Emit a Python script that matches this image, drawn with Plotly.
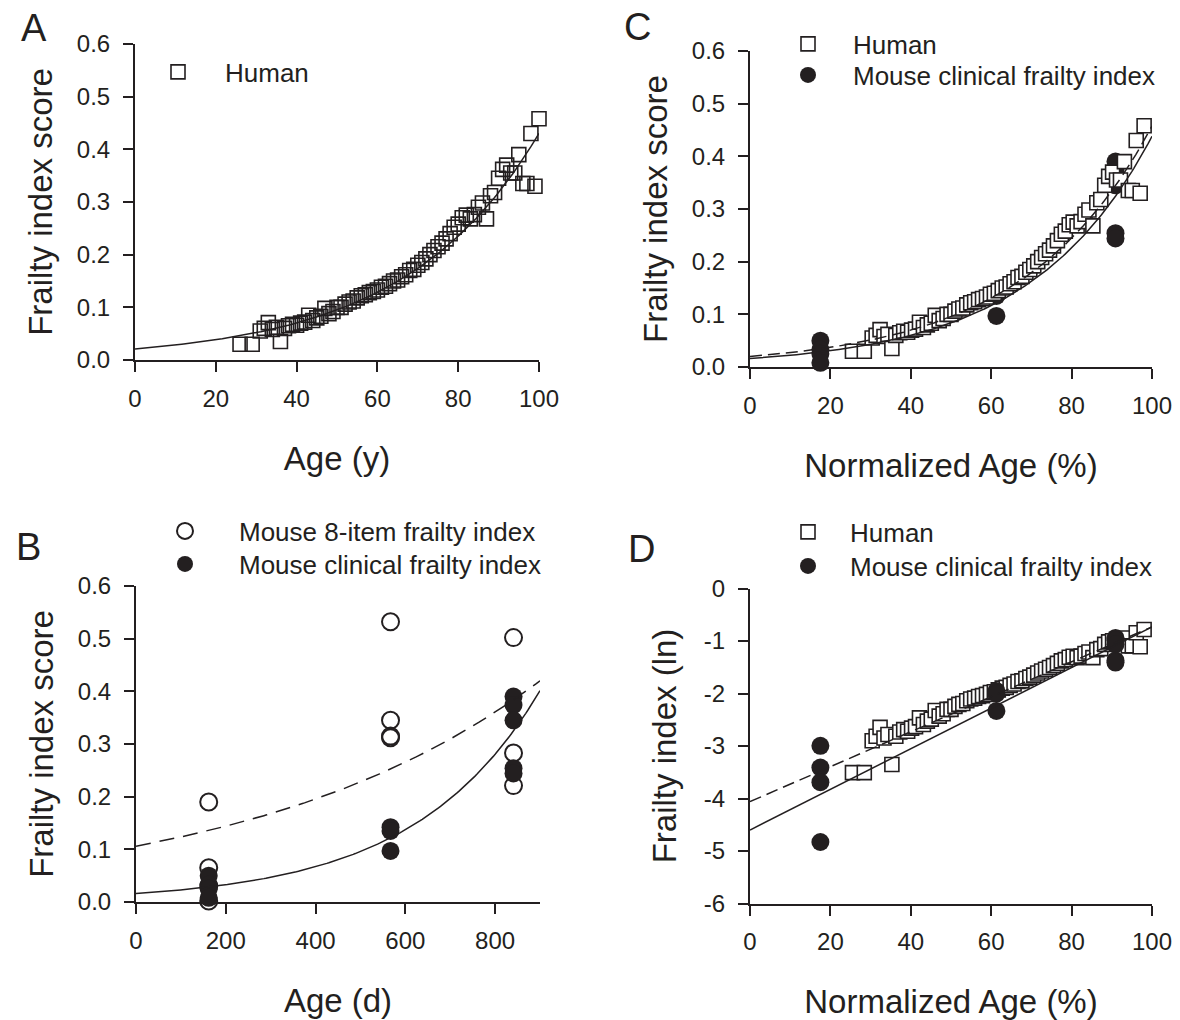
import numpy as np
import plotly.graph_objects as go

# ---------------- data ----------------
human_age = [26, 29, 31, 32, 33, 34, 35, 36, 37, 38, 39, 40, 41, 42, 43, 44, 45, 46, 47, 48,
             49, 50, 51, 52, 53, 54, 55, 56, 57, 58, 59, 60, 61, 62, 63, 64, 65, 66, 67, 68,
             69, 70, 71, 72, 73, 74, 75, 76, 77, 78, 79, 80, 81, 82, 83, 84, 85, 86, 87, 88,
             89, 90, 91, 92, 93, 94, 95, 96, 97, 98, 99, 100]
human_fi = [0.030, 0.030, 0.055, 0.060, 0.071, 0.058, 0.062, 0.035, 0.060, 0.065, 0.068, 0.066,
            0.070, 0.072, 0.085, 0.075, 0.080, 0.083, 0.098, 0.088, 0.092, 0.100, 0.100, 0.106,
            0.110, 0.112, 0.118, 0.122, 0.124, 0.128, 0.130, 0.133, 0.138, 0.140, 0.145, 0.150,
            0.152, 0.158, 0.162, 0.170, 0.172, 0.180, 0.185, 0.192, 0.200, 0.208, 0.215, 0.222,
            0.230, 0.240, 0.252, 0.258, 0.270, 0.275, 0.268, 0.276, 0.290, 0.298, 0.268, 0.312,
            0.318, 0.345, 0.362, 0.370, 0.355, 0.355, 0.390, 0.335, 0.335, 0.430, 0.330, 0.458]
HUMAN_LIFESPAN_Y = 102.0

mouse8_age_d = [162, 162, 162, 162, 567, 567, 567, 567, 841, 841, 841]
mouse8_fi = [0.190, 0.065, 0.030, 0.002, 0.532, 0.345, 0.315, 0.312, 0.502, 0.283, 0.221]

mouseclin_age_d = [162, 162, 162, 162, 567, 567, 567, 841, 841, 841, 841, 841]
mouseclin_fi = [0.050, 0.033, 0.025, 0.008, 0.142, 0.135, 0.097, 0.390, 0.374, 0.345, 0.254, 0.244]
MOUSE_LIFESPAN_D = 925.0

# exponential fit parameters  y = a * exp(b * x)
fit_A_human = (0.021, 0.0302)
fit_B_mouse8 = (0.106, 0.00153)
fit_B_clin = (0.016, 0.00358)
fit_C_human = (0.020, 0.0313)
fit_C_clin = (0.016, 0.0331)
# linear fits of ln(FI)  ln y = c + m * x
fit_D_human = (-4.06, 0.0333)
fit_D_clin = (-4.60, 0.0387)

frac_ticks = [0.0, 0.1, 0.2, 0.3, 0.4, 0.5, 0.6]
frac_ticktext = ["0.0", "0.1", "0.2", "0.3", "0.4", "0.5", "0.6"]
age_ticks = [0, 20, 40, 60, 80, 100]
day_ticks = [0, 200, 400, 600, 800]
ln_ticks = [-6, -5, -4, -3, -2, -1, 0]
ln_ticktext = ["-6", "-5", "-4", "-3", "-2", "-1", "0"]

# ---------------- derived ----------------
human_norm = [a * 100.0 / HUMAN_LIFESPAN_Y for a in human_age]
mouse8_norm = [d * 100.0 / MOUSE_LIFESPAN_D for d in mouse8_age_d]
mouseclin_norm = [d * 100.0 / MOUSE_LIFESPAN_D for d in mouseclin_age_d]
human_ln = list(np.log(human_fi))
mouseclin_ln = list(np.log(mouseclin_fi))

xs100 = np.linspace(0, 100, 200)
xs900 = np.linspace(0, 900, 200)

INK = "#231f20"
FONT = "Liberation Sans, Arial, Helvetica, sans-serif"
W, H = 1180, 1020

def px_x(p):
    return p / W

def px_y(p):
    return 1 - p / H

fig = go.Figure()

sq_open = dict(symbol="square-open", size=14, color=INK, line=dict(width=1.6, color=INK))
sq_white = dict(symbol="square", size=14, color="white", line=dict(width=1.6, color=INK))
circ_open = dict(symbol="circle-open", size=17, color=INK, line=dict(width=2, color=INK))
circ_fill = dict(symbol="circle", size=18, color=INK, line=dict(width=0, color=INK))

def pts(**kw):
    return go.Scatter(mode="markers", cliponaxis=False, **kw)

def curve(x, y, xa, ya, dash=None):
    ln = dict(color=INK, width=1.5)
    if dash:
        ln["dash"] = dash
    return go.Scatter(x=x, y=y, mode="lines", line=ln, showlegend=False, xaxis=xa, yaxis=ya,
                      hoverinfo="skip")

# ----- Panel A -----
fig.add_trace(pts(x=human_age, y=human_fi, marker=sq_open, name="Human",
                  xaxis="x", yaxis="y", legend="legend"))
fig.add_trace(curve(xs100, fit_A_human[0] * np.exp(fit_A_human[1] * xs100), "x", "y"))

# ----- Panel B -----
fig.add_trace(pts(x=mouse8_age_d, y=mouse8_fi, marker=circ_open,
                  name="Mouse 8-item frailty index", xaxis="x2", yaxis="y2", legend="legend2"))
fig.add_trace(pts(x=mouseclin_age_d, y=mouseclin_fi, marker=circ_fill,
                  name="Mouse clinical frailty index", xaxis="x2", yaxis="y2", legend="legend5"))
fig.add_trace(curve(xs900, fit_B_mouse8[0] * np.exp(fit_B_mouse8[1] * xs900), "x2", "y2",
                    dash="15px,9px"))
fig.add_trace(curve(xs900, fit_B_clin[0] * np.exp(fit_B_clin[1] * xs900), "x2", "y2"))

# ----- Panel C -----
fig.add_trace(pts(x=mouseclin_norm, y=mouseclin_fi, marker=circ_fill,
                  name="Mouse clinical frailty index", xaxis="x3", yaxis="y3", legend="legend6"))
fig.add_trace(pts(x=human_norm, y=human_fi, marker=sq_white, name="Human",
                  xaxis="x3", yaxis="y3", legend="legend3"))
fig.add_trace(curve(xs100, fit_C_human[0] * np.exp(fit_C_human[1] * xs100), "x3", "y3",
                    dash="12px,6px"))
fig.add_trace(curve(xs100, fit_C_clin[0] * np.exp(fit_C_clin[1] * xs100), "x3", "y3"))

# ----- Panel D -----
fig.add_trace(pts(x=human_norm, y=human_ln, marker=sq_white, name="Human",
                  xaxis="x4", yaxis="y4", legend="legend4"))
fig.add_trace(pts(x=mouseclin_norm, y=mouseclin_ln, marker=circ_fill,
                  name="Mouse clinical frailty index", xaxis="x4", yaxis="y4", legend="legend7"))
fig.add_trace(curve(xs100, fit_D_human[0] + fit_D_human[1] * xs100, "x4", "y4", dash="12px,6px"))
fig.add_trace(curve(xs100, fit_D_clin[0] + fit_D_clin[1] * xs100, "x4", "y4"))

tickfont = dict(family=FONT, size=24, color=INK)
titlefont = dict(family=FONT, size=33, color=INK)

def xax(domain, rng, tickvals, title, anchor, standoff=36):
    return dict(domain=domain, range=rng, tickvals=tickvals, showline=True, linewidth=2,
                linecolor=INK, ticks="outside", ticklen=10, tickwidth=2, tickcolor=INK,
                showgrid=False, zeroline=False, tickfont=tickfont, anchor=anchor,
                ticklabelstandoff=6, automargin=False, fixedrange=True,
                title=dict(text=title, font=titlefont, standoff=standoff))

def yax(domain, rng, tickvals, ticktext, title, anchor, standoff=14):
    return dict(domain=domain, range=rng, tickvals=tickvals, ticktext=ticktext, showline=True,
                linewidth=2, linecolor=INK, ticks="outside", ticklen=10, tickwidth=2,
                tickcolor=INK, showgrid=False, zeroline=False, tickfont=tickfont, anchor=anchor,
                ticklabelstandoff=8, automargin=False, fixedrange=True,
                title=dict(text=title, font=titlefont, standoff=standoff))

xA = [px_x(135), px_x(539)]
yA = [px_y(360), px_y(44)]
xB = [px_x(136), px_x(540)]
yB = [px_y(902), px_y(586)]
xC = [px_x(750), px_x(1152)]
yC = [px_y(367), px_y(51)]
xD = [px_x(750), px_x(1152)]
yD = [px_y(903.5), px_y(588.5)]

legfont = dict(family=FONT, size=26, color=INK)

def leg(xpix, ypix_mid, itemwidth):
    return dict(x=px_x(xpix), y=px_y(ypix_mid), xanchor="left", yanchor="middle",
                xref="paper", yref="paper", bgcolor="rgba(0,0,0,0)", borderwidth=0,
                font=legfont, itemwidth=itemwidth, tracegroupgap=0, itemclick=False,
                itemdoubleclick=False)

fig.update_layout(
    width=W, height=H, margin=dict(l=0, r=0, t=0, b=0, autoexpand=False),
    paper_bgcolor="white", plot_bgcolor="white",
    font=dict(family=FONT, color=INK),
    xaxis=xax(xA, [0, 100], age_ticks, "Age (y)", "y"),
    yaxis=yax(yA, [0, 0.6], frac_ticks, frac_ticktext, "Frailty index score", "x"),
    xaxis2=xax(xB, [0, 900], day_ticks, "Age (d)", "y2"),
    yaxis2=yax(yB, [0, 0.6], frac_ticks, frac_ticktext, "Frailty index score", "x2"),
    xaxis3=xax(xC, [0, 100], age_ticks, "Normalized Age (%)", "y3"),
    yaxis3=yax(yC, [0, 0.6], frac_ticks, frac_ticktext, "Frailty index score", "x3"),
    xaxis4=xax(xD, [0, 100], age_ticks, "Normalized Age (%)", "y4"),
    yaxis4=yax(yD, [-6, 0], ln_ticks, ln_ticktext, "Frailty index (ln)", "x4", standoff=17),
    legend=leg(131, 72, 84),
    legend2=leg(131, 531, 98),
    legend5=leg(131, 564, 98),
    legend3=leg(763, 44, 80),
    legend6=leg(763, 75, 80),
    legend4=leg(766, 532, 74),
    legend7=leg(766, 566, 74),
)

for txt, cx, cy in [("A", 34, 28), ("B", 28, 547), ("C", 637, 27), ("D", 641, 549)]:
    fig.add_annotation(text=txt, x=px_x(cx), y=px_y(cy), xref="paper", yref="paper",
                       xanchor="center", yanchor="middle", showarrow=False,
                       font=dict(family=FONT, size=38, color=INK))

fig.write_html("out.html", config={"displayModeBar": False},
               post_script="document.body.style.margin='0px';")
